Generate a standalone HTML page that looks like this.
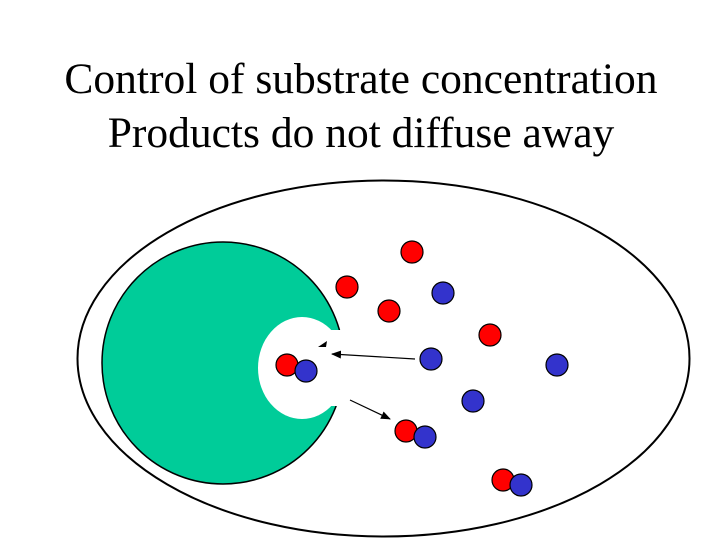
<!DOCTYPE html>
<html><head><style>
body{margin:0;background:#fff;width:719px;height:539px;overflow:hidden}
</style></head><body>
<svg width="719" height="539" xmlns="http://www.w3.org/2000/svg">
<defs><marker id="a" markerWidth="10" markerHeight="8" refX="9" refY="4" orient="auto" markerUnits="userSpaceOnUse"><path d="M0,0 L10,4 L0,8z" fill="#000"/></marker></defs>
<text x="361" y="93" text-anchor="middle" font-family="Liberation Serif, serif" font-size="43.5">Control of substrate concentration</text>
<text x="361" y="147" text-anchor="middle" font-family="Liberation Serif, serif" font-size="43.5">Products do not diffuse away</text>
<ellipse cx="383.5" cy="358.5" rx="306" ry="178" fill="none" stroke="#000" stroke-width="2"/>
<circle cx="223" cy="363" r="121" fill="#00cc99" stroke="#000" stroke-width="1.5"/>
<ellipse cx="302" cy="368" rx="44" ry="51" fill="#fff"/>
<rect x="330" y="330" width="30" height="76" fill="#fff"/>
<g stroke="#000" stroke-width="1.2">
<circle cx="412" cy="252" r="11" fill="#f00"/>
<circle cx="347" cy="287" r="11" fill="#f00"/>
<circle cx="389" cy="311" r="11" fill="#f00"/>
<circle cx="490" cy="335" r="11" fill="#f00"/>
<circle cx="443" cy="293" r="11" fill="#3333cc"/>
<circle cx="431" cy="359" r="11" fill="#3333cc"/>
<circle cx="557" cy="365" r="11" fill="#3333cc"/>
<circle cx="473" cy="401" r="11" fill="#3333cc"/>
<circle cx="287" cy="365" r="11" fill="#f00"/>
<circle cx="306" cy="371" r="11" fill="#3333cc"/>
<circle cx="406" cy="431" r="11" fill="#f00"/>
<circle cx="425" cy="437" r="11" fill="#3333cc"/>
<circle cx="503" cy="480" r="11" fill="#f00"/>
<circle cx="521" cy="485" r="11" fill="#3333cc"/>
</g>
<line x1="415" y1="359" x2="332" y2="354" stroke="#000" stroke-width="1.2" marker-end="url(#a)"/>
<line x1="350" y1="400" x2="390" y2="419" stroke="#000" stroke-width="1.2" marker-end="url(#a)"/>
<path d="M327,341 L318,347 L326,347z" fill="#000"/>
</svg>
</body></html>
